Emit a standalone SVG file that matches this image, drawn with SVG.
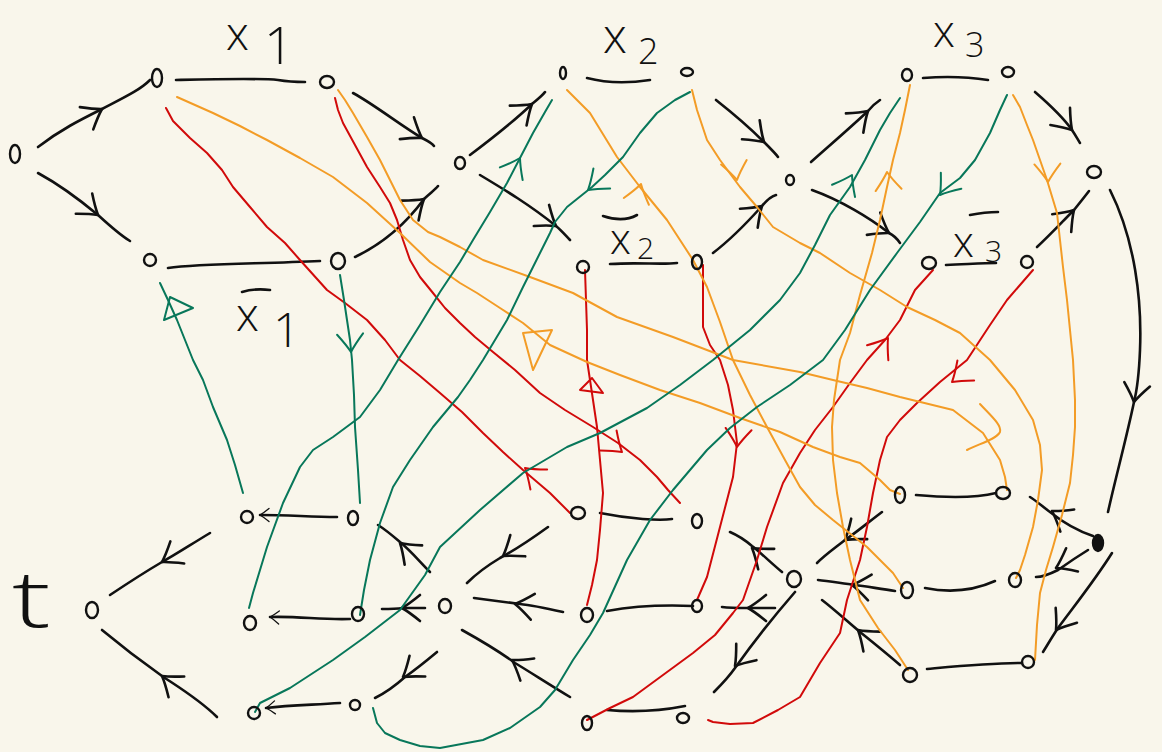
<svg xmlns="http://www.w3.org/2000/svg" xmlns:xlink="http://www.w3.org/1999/xlink" width="1162" height="752" viewBox="0 0 1162 752">
<style>
.k{stroke:#111;stroke-width:2.6;fill:none;stroke-linecap:round;stroke-linejoin:round}
.r{stroke:#d10a0a;stroke-width:2;fill:none;stroke-linecap:round;stroke-linejoin:round}
.o{stroke:#f39c26;stroke-width:2;fill:none;stroke-linecap:round;stroke-linejoin:round}
.g{stroke:#08775a;stroke-width:2;fill:none;stroke-linecap:round;stroke-linejoin:round}
.nd{fill:none;stroke:#111;stroke-width:2.4}
.nf{fill:#111;stroke:#111;stroke-width:2.4}
.lbl{font-family:"Open Sans","Lato","Liberation Sans",Arial,sans-serif;font-weight:300;fill:#111}
</style>
<defs>
<path id="ah" d="M-18,-13 Q-7,-4 0,0 Q-7,4 -18,13"/>
</defs>
<rect width="1162" height="752" fill="#f9f6eb"/>

<g id="connectors">
<!-- black edges top -->
<path class="k" d="M38,147 C60,130 80,120 102,109 C125,97 140,90 150,80"/>
<path class="k" d="M38,173 C60,185 80,200 98,215 C110,226 120,235 130,241"/>
<path class="k" d="M176,80 C220,79 260,78 278,80 C290,82 300,82 305,82"/>
<path class="k" d="M168,268 C200,263 260,264 320,261"/>
<path class="k" d="M353,93 C375,105 400,125 422,138 C428,141 432,143 434,146"/>
<path class="k" d="M355,257 C380,245 405,225 424,199 C430,193 435,190 438,186"/>
<path class="k" d="M470,155 C490,140 510,125 532,104 C538,99 543,95 545,92"/>
<path class="k" d="M480,175 C505,190 530,205 556,226 C562,231 566,236 570,240"/>
<path class="k" d="M587,78 C610,84 630,83 650,80"/>
<path class="k" d="M610,264 C640,262 660,265 677,263"/>
<path class="k" d="M716,100 C735,115 750,128 764,142 C772,150 776,154 778,157"/>
<path class="k" d="M713,253 C730,240 745,225 762,206 C767,200 772,196 776,195"/>
<path class="k" d="M811,162 C830,145 850,128 868,111 C872,106 877,102 880,100"/>
<path class="k" d="M812,190 C840,200 870,218 889,233 C895,236 898,240 900,243"/>
<path class="k" d="M923,78 C950,76 975,78 988,80"/>
<path class="k" d="M946,265 C970,264 985,263 996,263"/>
<path class="k" d="M1035,92 C1050,105 1065,120 1072,130 C1076,136 1078,140 1080,143"/>
<path class="k" d="M1037,247 C1050,235 1062,222 1074,210 C1082,200 1086,195 1089,191"/>
<path class="k" d="M1110,190 C1135,240 1142,300 1140,350 C1139,375 1137,390 1134,402 C1126,440 1115,480 1108,512"/>
<!-- black edges bottom -->
<path class="k" d="M1093,536 C1075,530 1060,520 1050,512 C1042,506 1035,500 1030,497"/>
<path class="k" d="M1088,550 C1075,558 1065,565 1058,570 C1050,574 1042,577 1036,577"/>
<path class="k" d="M1112,553 C1095,580 1075,605 1058,628 C1052,637 1048,644 1043,652"/>
<path class="k" d="M916,495 C950,498 980,497 996,493"/>
<path class="k" d="M925,588 C950,593 975,590 995,581"/>
<path class="k" d="M927,669 C960,666 990,663 1022,663"/>
<path class="k" d="M882,512 C865,525 850,537 845,540 C835,548 825,555 817,563"/>
<path class="k" d="M895,591 C880,589 865,586 855,585 C840,583 828,581 818,580"/>
<path class="k" d="M900,665 C885,652 870,640 860,632 C848,622 835,610 822,600"/>
<path class="k" d="M782,572 C770,562 760,552 752,546 C745,540 737,535 730,532"/>
<path class="k" d="M775,608 C765,608 755,608 748,608 C738,608 730,608 722,607"/>
<path class="k" d="M795,592 C775,615 755,640 735,668 C728,678 720,686 714,692"/>
<path class="k" d="M600,513 C630,519 660,521 672,519"/>
<path class="k" d="M607,611 C640,605 670,605 693,606"/>
<path class="k" d="M607,710 C640,713 665,710 685,706"/>
<path class="k" d="M548,527 C530,540 515,550 500,558 C485,567 475,575 467,583"/>
<path class="k" d="M563,612 C545,608 530,605 520,604 C505,602 490,600 474,598"/>
<path class="k" d="M570,697 C550,685 530,672 515,663 C500,652 480,640 462,630"/>
<path class="k" d="M430,572 C420,562 410,550 400,542 C393,536 386,530 378,525"/>
<path class="k" d="M425,608 C415,608 408,608 403,608 C395,609 388,609 382,609"/>
<path class="k" d="M437,652 C425,662 415,670 405,677 C395,686 385,693 375,698"/>
<path class="k" d="M337,517 C310,517 290,515 260,515"/>
<path class="k" d="M350,619 C320,620 300,616 270,617"/>
<path class="k" d="M340,703 C310,705 290,705 266,708"/>
<path class="k" d="M210,533 C190,545 175,555 162,562 C145,572 125,585 110,595"/>
<path class="k" d="M217,717 C200,700 180,688 162,676 C145,664 120,645 102,630"/>

<!-- black arrowheads -->
<use href="#ah" class="k" transform="translate(102,109) rotate(-31)"/>
<use href="#ah" class="k" transform="translate(98,215) rotate(39)"/>
<use href="#ah" class="k" transform="translate(422,138) rotate(33)"/>
<use href="#ah" class="k" transform="translate(424,199) rotate(-40)"/>
<use href="#ah" class="k" transform="translate(532,104) rotate(-40)"/>
<use href="#ah" class="k" transform="translate(556,226) rotate(36)"/>
<use href="#ah" class="k" transform="translate(764,142) rotate(43)"/>
<use href="#ah" class="k" transform="translate(762,206) rotate(-43)"/>
<use href="#ah" class="k" transform="translate(868,111) rotate(-42)"/>
<use href="#ah" class="k" transform="translate(889,233) rotate(31)"/>
<use href="#ah" class="k" transform="translate(1072,130) rotate(49)"/>
<use href="#ah" class="k" transform="translate(1074,210) rotate(-47)"/>
<use href="#ah" class="k" transform="translate(1134,402) rotate(100)"/>
<use href="#ah" class="k" transform="translate(1052,511) rotate(212)"/>
<use href="#ah" class="k" transform="translate(1056,568) rotate(153)"/>
<use href="#ah" class="k" transform="translate(1056,630) rotate(125)"/>
<use href="#ah" class="k" transform="translate(845,540) rotate(142)"/>
<use href="#ah" class="k" transform="translate(852,585) rotate(188)"/>
<use href="#ah" class="k" transform="translate(858,630) rotate(220)"/>
<use href="#ah" class="k" transform="translate(752,548) rotate(218)"/>
<use href="#ah" class="k" transform="translate(748,608) rotate(180)"/>
<use href="#ah" class="k" transform="translate(735,666) rotate(129)"/>
<use href="#ah" class="k" transform="translate(503,556) rotate(145)"/>
<use href="#ah" class="k" transform="translate(515,604) rotate(189)"/>
<use href="#ah" class="k" transform="translate(512,660) rotate(212)"/>
<use href="#ah" class="k" transform="translate(400,543) rotate(222)"/>
<use href="#ah" class="k" transform="translate(402,608) rotate(180)"/>
<use href="#ah" class="k" transform="translate(403,677) rotate(143)"/>
<use href="#ah" class="k" transform="translate(260,515) rotate(180) scale(0.5)"/>
<use href="#ah" class="k" transform="translate(270,617) rotate(183) scale(0.5)"/>
<use href="#ah" class="k" transform="translate(266,708) rotate(176) scale(0.5)"/>
<use href="#ah" class="k" transform="translate(162,562) rotate(148)"/>
<use href="#ah" class="k" transform="translate(162,676) rotate(217)"/>

<!-- red -->
<path class="r" d="M166,108 L173,121 L190,138 L207,153 L222,170 L233,187 L250,207 L267,227 L285,243 L300,260 L327,290 L345,303 L367,320 L385,340 L400,360 L420,376 L440,393 L462,412 L483,433 L503,452 L523,470 L550,493 L570,513"/>
<path class="r" d="M335,98 L338,110 L343,123 L355,145 L367,167 L380,187 L390,203 L397,220 L403,240 L410,260 L420,277 L433,293 L445,308 L460,323 L475,337 L493,352 L515,370 L540,393 L565,410 L593,427 L618,443 L640,460 L657,477 L668,490 L680,503"/>
<path class="r" d="M585,270 L586,300 L587,330 L587,360 L590,380 L593,400 L597,427 L600,460 L603,493 L600,530 L597,560 L592,585 L587,605"/>
<path class="r" d="M703,265 L703,295 L703,327 L710,345 L720,360 L728,385 L733,410 L737,443 L733,477 L720,527 L707,577 L697,600"/>
<path class="r" d="M933,270 L915,290 L900,320 L885,340 L867,360 L850,383 L833,407 L815,430 L800,453 L783,483 L767,527 L757,560 L743,600 L733,613 L715,635 L693,653 L663,675 L633,697 L610,708 L587,720"/>
<path class="r" d="M1033,270 L1020,285 L1007,300 L990,325 L967,360 L940,382 L917,403 L900,420 L887,437 L880,460 L873,493 L867,527 L860,560 L847,600 L840,633 L820,663 L800,697 L778,710 L753,723 L730,724 L713,722 L708,720"/>
<use href="#ah" class="r" transform="translate(525,468) rotate(220)"/>
<use href="#ah" class="r" transform="translate(622,452) rotate(40)"/>
<path class="r" d="M580,390 L592,378 L603,393 Z"/>
<use href="#ah" class="r" transform="translate(737,447) rotate(95)"/>
<use href="#ah" class="r" transform="translate(888,338) rotate(-55)"/>
<use href="#ah" class="r" transform="translate(952,382) rotate(140)"/>

<!-- orange -->
<path class="o" d="M177,97 L213,113 L240,126 L267,140 L300,158 L333,177 L367,203 L400,233 L430,262 L460,283 L477,293 L500,308 L523,323 L550,345 L587,362 L620,375 L660,390 L700,403 L740,418 L780,432 L813,447 L840,457 L860,463 L880,480 L890,490 L900,494"/>
<path class="o" d="M338,90 L345,100 L353,113 L367,137 L380,160 L390,180 L400,200 L413,220 L428,232 L440,237 L460,247 L483,260 L530,277 L573,293 L617,317 L673,337 L733,360 L800,372 L833,380 L867,388 L900,397 L953,410 L983,433 L1000,460 L1005,477 L1007,490"/>
<path class="o" d="M567,90 L590,113 L617,157 L640,187 L667,220 L693,260 L707,287 L720,322 L733,360 L750,395 L767,427 L785,460 L800,487 L815,505 L833,520 L867,547 L893,573 L903,588"/>
<path class="o" d="M692,90 L697,110 L707,140 L720,160 L740,187 L757,207 L773,227 L800,243 L820,253 L850,273 L880,290 L907,307 L935,320 L960,333 L990,360 L1015,390 L1033,420 L1040,445 L1042,470 L1038,500 L1033,527 L1025,555 L1020,570 L1016,578"/>
<path class="o" d="M910,85 L905,110 L900,133 L893,160 L887,187 L880,220 L872,253 L860,295 L850,333 L840,360 L834,400 L832,427 L833,460 L837,493 L843,527 L850,560 L860,600 L878,628 L895,650 L908,670"/>
<path class="o" d="M1013,95 L1020,107 L1027,125 L1033,140 L1040,160 L1047,180 L1057,213 L1060,240 L1063,267 L1067,300 L1070,330 L1073,360 L1075,400 L1075,427 L1073,455 L1070,483 L1062,515 L1053,547 L1046,570 L1040,593 L1037,625 L1035,660"/>
<path class="o" d="M523,333 L552,330 L533,370 Z"/>
<path class="o" d="M980,404 C990,415 1002,425 1000,432 C996,440 978,444 967,450"/>
<use href="#ah" class="o" transform="translate(641,184) rotate(-75)"/>
<use href="#ah" class="o" transform="translate(737,180) rotate(80)"/>
<use href="#ah" class="o" transform="translate(887,172) rotate(-95)"/>
<use href="#ah" class="o" transform="translate(1048,182) rotate(88)"/>

<!-- green -->
<path class="g" d="M243,493 L235,465 L227,440 L213,407 L203,380 L193,360 L185,340 L177,320 L168,300 L160,283"/>
<path class="g" d="M340,275 L344,300 L347,320 L350,340 L352,360 L354,395 L355,427 L358,470 L360,503"/>
<path class="g" d="M249,608 L253,593 L260,570 L267,547 L283,503 L300,467 L313,450 L333,437 L360,417 L380,390 L398,360 L420,325 L440,292 L460,262 L473,240 L490,212 L507,183 L520,158 L533,133 L545,112 L552,100"/>
<path class="g" d="M690,92 L675,100 L657,113 L640,133 L623,157 L605,175 L592,187 L567,207 L555,222 L550,233 L543,247 L533,267 L523,287 L507,320 L495,340 L483,360 L470,380 L458,397 L433,427 L410,460 L393,487 L380,523 L370,560 L364,590 L360,615"/>
<path class="g" d="M255,712 L260,703 L290,688 L333,660 L365,637 L400,610 L425,575 L440,547 L480,510 L523,473 L567,447 L600,433 L647,408 L680,385 L713,360 L750,330 L780,300 L800,273 L815,245 L830,215 L850,187 L865,160 L880,130 L890,113 L900,98"/>
<path class="g" d="M1007,95 L1000,110 L990,133 L975,160 L960,178 L940,193 L920,222 L897,253 L870,290 L845,330 L823,360 L790,385 L757,407 L730,428 L707,450 L690,470 L673,490 L650,520 L627,560 L603,613 L590,635 L573,660 L555,690 L540,707 L510,728 L483,740 L440,748 L420,746 L400,740 L385,733 L377,723 L373,708"/>
<path class="g" d="M164,320 L170,297 L193,308 Z"/>
<use href="#ah" class="g" transform="translate(351,352) rotate(87)"/>
<use href="#ah" class="g" transform="translate(520,158) rotate(-61)"/>
<use href="#ah" class="g" transform="translate(588,190) rotate(140)"/>
<use href="#ah" class="g" transform="translate(852,175) rotate(-62)"/>
<use href="#ah" class="g" transform="translate(940,195) rotate(128)"/>
</g>

<g id="labels">
<text class="lbl" x="226" y="50" font-size="46">x</text>
<text class="lbl" x="264" y="64" font-size="52">1</text>
<text class="lbl" x="236" y="331" font-size="46">x</text>
<text class="lbl" x="273" y="347" font-size="48">1</text>
<path class="k" d="M242,292 C252,289 262,289 270,290"/>
<text class="lbl" x="603" y="53" font-size="48">x</text>
<text class="lbl" x="638" y="64" font-size="36">2</text>
<text class="lbl" x="610" y="254" font-size="42">x</text>
<text class="lbl" x="637" y="259" font-size="30">2</text>
<path class="k" d="M603,216 C615,220 628,220 637,215"/>
<text class="lbl" x="933" y="47" font-size="44">x</text>
<text class="lbl" x="965" y="57" font-size="34">3</text>
<text class="lbl" x="953" y="257" font-size="42">x</text>
<text class="lbl" x="985" y="262" font-size="30">3</text>
<path class="k" d="M970,215 C980,213 990,212 998,212"/>
<text class="lbl" x="12" y="627" font-size="80" transform="translate(12,627) scale(1.45,1) translate(-12,-627)">t</text>
</g>

<g id="n-s"><ellipse class="nd" cx="15" cy="154" rx="5" ry="9"/></g>
<g id="n-a1"><ellipse class="nd" cx="157" cy="78" rx="5" ry="9"/></g>
<g id="n-b1"><ellipse class="nd" cx="327" cy="82" rx="7" ry="6"/></g>
<g id="n-c1"><ellipse class="nd" cx="150" cy="260" rx="6" ry="6"/></g>
<g id="n-d1"><ellipse class="nd" cx="338" cy="261" rx="7" ry="8"/></g>
<g id="n-e"><ellipse class="nd" cx="460" cy="163" rx="5" ry="6"/></g>
<g id="n-a2"><ellipse class="nd" cx="563" cy="73" rx="3" ry="6"/></g>
<g id="n-b2"><ellipse class="nd" cx="687" cy="72" rx="6" ry="4"/></g>
<g id="n-c2"><ellipse class="nd" cx="583" cy="267" rx="6" ry="6"/></g>
<g id="n-d2"><ellipse class="nd" cx="697" cy="262" rx="5" ry="7"/></g>
<g id="n-f"><ellipse class="nd" cx="790" cy="180" rx="4" ry="5"/></g>
<g id="n-a3"><ellipse class="nd" cx="907" cy="75" rx="5" ry="6"/></g>
<g id="n-b3"><ellipse class="nd" cx="1008" cy="72" rx="6" ry="5"/></g>
<g id="n-c3"><ellipse class="nd" cx="929" cy="263" rx="7" ry="6"/></g>
<g id="n-d3"><ellipse class="nd" cx="1027" cy="262" rx="6" ry="6"/></g>
<g id="n-g"><ellipse class="nd" cx="1094" cy="172" rx="7" ry="6"/></g>
<g id="n-t"><ellipse class="nd" cx="92" cy="610" rx="6" ry="8"/></g>
<g id="n-l1a"><ellipse class="nd" cx="247" cy="517" rx="6" ry="6"/></g>
<g id="n-l1b"><ellipse class="nd" cx="353" cy="518" rx="5" ry="7"/></g>
<g id="n-l2a"><ellipse class="nd" cx="250" cy="623" rx="6" ry="7"/></g>
<g id="n-l2b"><ellipse class="nd" cx="358" cy="614" rx="6" ry="7"/></g>
<g id="n-l3a"><ellipse class="nd" cx="254" cy="713" rx="6" ry="6"/></g>
<g id="n-l3b"><ellipse class="nd" cx="355" cy="705" rx="5" ry="5"/></g>
<g id="n-c"><ellipse class="nd" cx="445" cy="606" rx="6" ry="7"/></g>
<g id="n-m1a"><ellipse class="nd" cx="578" cy="513" rx="7" ry="6"/></g>
<g id="n-m1b"><ellipse class="nd" cx="697" cy="521" rx="5" ry="7"/></g>
<g id="n-m2a"><ellipse class="nd" cx="587" cy="615" rx="6" ry="7"/></g>
<g id="n-m2b"><ellipse class="nd" cx="697" cy="606" rx="5" ry="6"/></g>
<g id="n-m3a"><ellipse class="nd" cx="587" cy="723" rx="5" ry="7"/></g>
<g id="n-m3b"><ellipse class="nd" cx="683" cy="718" rx="6" ry="5"/></g>
<g id="n-f2"><ellipse class="nd" cx="794" cy="579" rx="7" ry="8"/></g>
<g id="n-r1a"><ellipse class="nd" cx="900" cy="495" rx="5" ry="8"/></g>
<g id="n-r1b"><ellipse class="nd" cx="1003" cy="493" rx="7" ry="6"/></g>
<g id="n-r2a"><ellipse class="nd" cx="907" cy="590" rx="6" ry="8"/></g>
<g id="n-r2b"><ellipse class="nd" cx="1015" cy="580" rx="6" ry="7"/></g>
<g id="n-r3a"><ellipse class="nd" cx="910" cy="675" rx="7" ry="7"/></g>
<g id="n-r3b"><ellipse class="nd" cx="1028" cy="662" rx="6" ry="6"/></g>
<g id="n-h"><ellipse class="nf" cx="1098" cy="543" rx="5" ry="8"/></g>
</svg>
